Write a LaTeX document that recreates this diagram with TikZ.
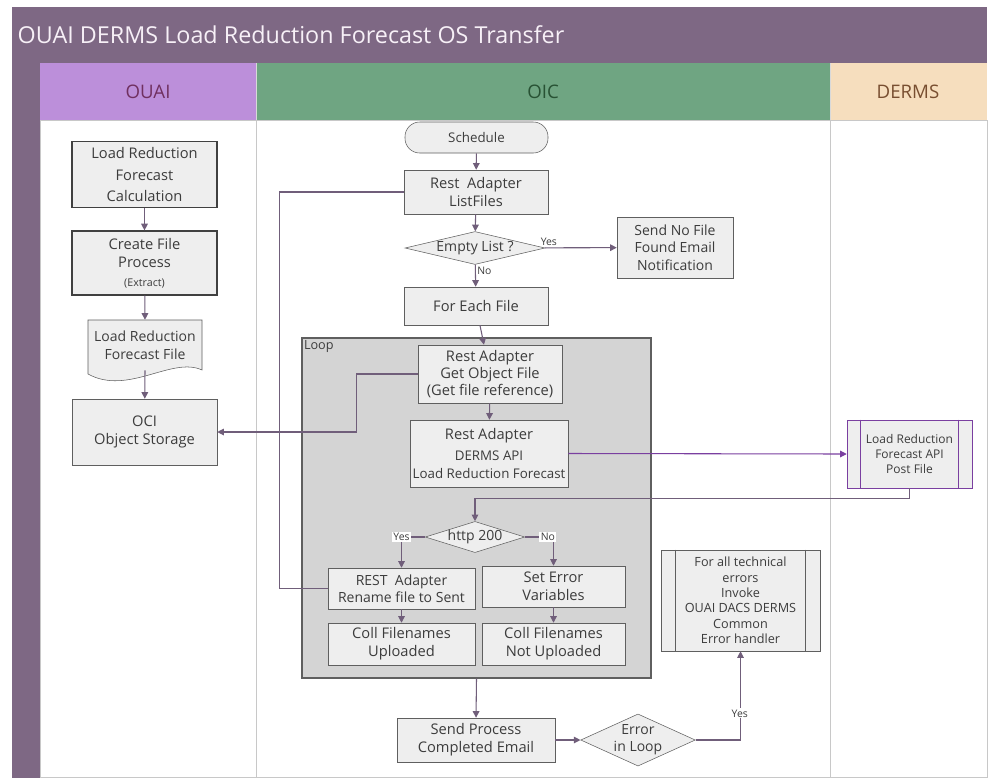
\documentclass[tikz,border=0pt]{standalone}
\usepackage{fontspec}
\setmainfont{Open Sans}
\usetikzlibrary{shapes.geometric, arrows.meta, positioning}
\definecolor{titlebar}{RGB}{126,104,132}
\definecolor{ouaihead}{RGB}{188,143,218}
\definecolor{oichead}{RGB}{111,165,130}
\definecolor{dermshead}{RGB}{246,222,190}
\definecolor{boxfill}{RGB}{238,238,238}
\definecolor{boxline}{RGB}{95,95,95}
\definecolor{boxtext}{RGB}{60,60,60}
\definecolor{loopfill}{RGB}{212,212,212}
\definecolor{flowcol}{RGB}{112,94,122}
\definecolor{apicol}{RGB}{122,63,160}
\definecolor{lanegrey}{RGB}{200,200,200}

\begin{document}
\begin{tikzpicture}[x=0.75pt, y=-0.75pt,
  sz/.style 2 args={minimum width=#1*0.75pt, minimum height=#2*0.75pt},
  box/.style={draw=boxline, fill=boxfill, align=center, inner sep=1pt, text=boxtext, font=\fontsize{11}{13.5}\selectfont},
  darkbox/.style={box, draw=black!75, line width=0.9pt},
  decision/.style={diamond, draw=boxline, fill=boxfill, aspect=3, inner sep=0pt, align=center, text=boxtext, font=\fontsize{10.5}{12}\selectfont},
  subproc/.style={box, font=\fontsize{9.5}{11.5}\selectfont},
  header/.style={font=\fontsize{14}{16}\selectfont},
  flow/.style={draw=flowcol, line width=0.8pt},
  arr/.style={flow, -{Triangle[length=5pt, width=5pt]}},
  tag/.style={font=\fontsize{7.8}{9}\selectfont, text=boxtext, inner sep=1pt}]

\useasboundingbox (0,0) rectangle (994,778);
\fill[white] (0,0) rectangle (994,778);

\fill[titlebar] (12,7) rectangle (987,63);
\fill[titlebar] (12,63) rectangle (40,778);
\fill[ouaihead] (40,63) rectangle (256,120);
\fill[oichead] (256,63) rectangle (830,120);
\fill[dermshead] (830,63) rectangle (987,120);
\draw[lanegrey] (40,120) rectangle (987,777);
\draw[lanegrey] (256,120) -- (256,777);
\draw[lanegrey] (830,120) -- (830,777);
\draw[white!85!black] (256,63) -- (256,120) (830,63) -- (830,120);

\node[anchor=west, text=white!94!violet, font=\fontsize{17.5}{20}\selectfont] (title) at (13,35) {OUAI DERMS Load Reduction Forecast OS Transfer};
\node[header, text={rgb,255:red,112;green,48;blue,96}] (ouai) at (148,92) {OUAI};
\node[header, text={rgb,255:red,40;green,82;blue,52}] (oic) at (543,92) {OIC};
\node[header, text={rgb,255:red,120;green,78;blue,48}] (derms) at (908,92) {DERMS};

\node[darkbox, sz={145}{66}, font=\fontsize{11}{16}\selectfont] (calc) at (144.5,174.5) {Load Reduction\\Forecast\\Calculation};
\node[darkbox, sz={145}{64}, font=\fontsize{11}{14}\selectfont] (create) at (144.5,263) {Create File\\Process\\{\fontsize{8}{9}\selectfont (Extract)}};
\fill[boxfill] (88,320) -- (202,320) -- (202,370) .. controls (172,356) and (128,396) .. (88,374) -- cycle;
\draw[boxline] (88,320) -- (202,320) -- (202,370) .. controls (172,356) and (128,396) .. (88,374) -- cycle;
\node[align=center, text=boxtext, font=\fontsize{10.5}{13.5}\selectfont, sz={114}{50}] (lrffile) at (145,345) {Load Reduction\\Forecast File};
\node[box, sz={145}{66}] (oci) at (144.5,432) {OCI\\Object Storage};

\node[box, rounded corners=11pt, sz={143}{31}, font=\fontsize{10}{12}\selectfont] (sched) at (476.5,137.5) {Schedule};
\node[box, sz={144}{44}] (list) at (476,192) {Rest\ \ Adapter\\ListFiles};
\node[decision, sz={140}{32}, aspect=4] (empty) at (475,248) {Empty List ?};
\node[box, sz={116}{61}, font=\fontsize{10.5}{13}\selectfont] (nofile) at (675,247.5) {Send No File\\Found Email\\Notification};
\node[box, sz={144}{38}] (each) at (476,306) {For Each File};

\node[draw=boxline, fill=loopfill, line width=0.9pt, sz={349}{340}] (loop) at (476.5,508) {};
\node[tag, anchor=north west, font=\fontsize{9.5}{10}\selectfont] (looplbl) at ([shift={(1,1)}]loop.north west) {Loop};
\node[box, sz={144}{58}, font=\fontsize{11}{12.8}\selectfont] (getobj) at (490,374) {Rest Adapter\\Get Object File\\(Get file reference)};
\node[box, sz={158}{67}] (dermsapi) at (489,453.5) {Rest Adapter\\[2pt]{\fontsize{10}{12.5}\selectfont DERMS API}\\{\fontsize{10}{12.5}\selectfont Load Reduction Forecast}};
\node[decision, sz={96}{31}, aspect=3.2] (http) at (475,537) {http 200};
\node[box, sz={147}{41}, font=\fontsize{10.5}{13}\selectfont] (rename) at (401.5,588.5) {REST\ \ Adapter\\Rename file to Sent};
\node[box, sz={143}{41}] (seterr) at (553.5,586.5) {Set Error\\Variables};
\node[box, sz={147}{42}] (collup) at (401.5,644) {Coll Filenames\\Uploaded};
\node[box, sz={143}{42}] (collnot) at (553.5,644) {Coll Filenames\\Not Uploaded};

\node[box, sz={158}{44}] (sendmail) at (476,740) {Send Process\\Completed Email};
\node[decision, sz={102}{50}, aspect=2.2, font=\fontsize{10.5}{12.5}\selectfont] (errloop) at (638,740) {Error\\in Loop};
\node[subproc, sz={159}{101}] (handler) at (740.5,600.5) {For all technical\\errors\\Invoke\\OUAI DACS DERMS\\Common\\Error handler};
\draw[boxline] ([xshift=15*0.75pt]handler.north west) -- ([xshift=15*0.75pt]handler.south west)
  ([xshift=-15*0.75pt]handler.north east) -- ([xshift=-15*0.75pt]handler.south east);
\node[subproc, draw=apicol, sz={125}{68}, font=\fontsize{9}{11.5}\selectfont] (postfile) at (909.5,454) {Load Reduction\\Forecast API\\Post File};
\draw[apicol] ([xshift=14*0.75pt]postfile.north west) -- ([xshift=14*0.75pt]postfile.south west)
  ([xshift=-14*0.75pt]postfile.north east) -- ([xshift=-14*0.75pt]postfile.south east);

\draw[arr] (calc) -- (create);
\draw[arr] (create) -- (lrffile.north);
\draw[arr] (lrffile.south) -- (oci);
\draw[arr] (sched) -- (list);
\draw[arr] (list) -- (empty);
\draw[arr] (empty) -- node[tag, right, pos=0.3] {No} (each);
\draw[arr] (empty) -- node[tag, above, pos=0.06] {Yes} (nofile);
\draw[arr] (each) -- (getobj);
\draw[arr] (getobj.west) -- ++(-61,0) |- (oci.east);
\draw[flow] (list.west) -- ++(-124,0) |- (rename.west);
\draw[arr] (getobj) -- (dermsapi);
\draw[arr, draw=apicol] (dermsapi.east) -- (postfile.west);
\draw[arr] (postfile.south) -- ++(0,10) -| (http.north);
\draw[arr] (http.west) -| node[tag, fill=white, pos=0.5] {Yes} (rename.north);
\draw[arr] (http.east) -| node[tag, fill=white, pos=0.4] {No} (seterr.north);
\draw[arr] (rename) -- (collup);
\draw[arr] (seterr) -- (collnot);
\draw[arr] (loop.south) -- (sendmail.north);
\draw[arr] (sendmail) -- (errloop);
\draw[arr] (errloop.east) -| node[tag, pos=0.65, right=-8pt, fill=white] {Yes} (handler.south);
\end{tikzpicture}
\end{document}
